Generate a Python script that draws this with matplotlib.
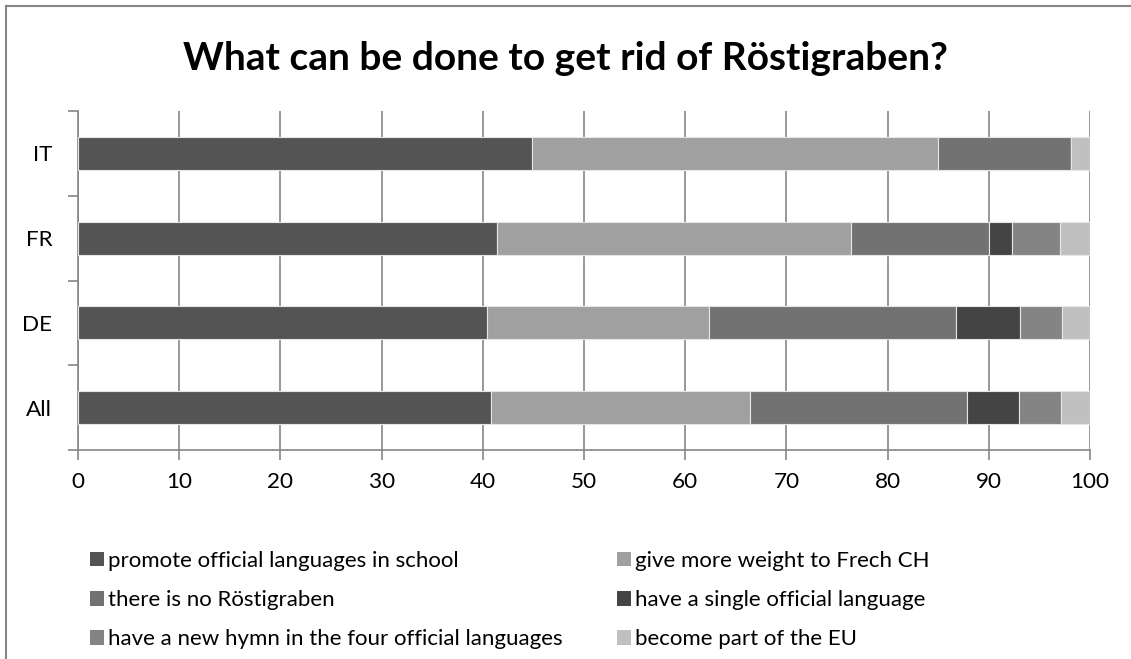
#!/usr/bin/env python3
"""Stacked horizontal bar chart: what can be done to get rid of Röstigraben."""

import matplotlib.pyplot as plt
import numpy as np
from matplotlib.lines import Line2D
from matplotlib.patches import Patch

plt.rcParams['font.family'] = ['Lato', 'DejaVu Sans']

# Data (percent of answers per group)
groups = ['All', 'DE', 'FR', 'IT']
answers = [
    'promote official languages in school',
    'give more weight to Frech CH',
    'there is no Röstigraben',
    'have a single official language',
    'have a new hymn in the four official languages',
    'become part of the EU',
]
promote = [40.8, 40.4, 41.4, 44.9]
weight = [25.6, 22.0, 35.0, 40.1]
no_graben = [21.4, 24.4, 13.6, 13.1]
single = [5.2, 6.3, 2.3, 0.0]
hymn = [4.1, 4.1, 4.7, 0.0]
eu = [2.9, 2.8, 3.0, 1.9]
x_ticks = [0, 10, 20, 30, 40, 50, 60, 70, 80, 90, 100]

colors = ['#545454', '#a0a0a0', '#727272', '#444444', '#848484', '#c0c0c0']

W, H = 1131, 659
fig = plt.figure(figsize=(W / 100, H / 100), dpi=100)
ax = fig.add_axes([78 / W, 1 - 450 / H, (1090 - 78) / W, (450 - 111) / H])

series = [promote, weight, no_graben, single, hymn, eu]
y = np.arange(len(groups))
left = np.zeros(len(groups))
for vals, col in zip(series, colors):
    vals = np.array(vals)
    ax.barh(y, vals, left=left, height=0.39, color=col,
            edgecolor='#e6e6e6', linewidth=0.8, zorder=3)
    left += vals

ax.set_xlim(0, 100)
ax.set_ylim(-0.5, len(groups) - 0.5)
ax.set_xticks(x_ticks)
ax.set_yticks(y)
ax.set_yticklabels(groups)
ax.set_yticks(np.arange(-0.5, len(groups), 1), minor=True)
ax.tick_params(axis='y', which='major', length=0, pad=18.5, labelsize=16.2)
ax.tick_params(axis='y', which='minor', length=7, color='#868686', width=1.2)
ax.tick_params(axis='x', length=7, color='#868686', width=1.2, pad=8.5, labelsize=16.2)
ax.grid(True, axis='x', color='#868686', linewidth=1.2, zorder=0)

for side in ['top', 'right']:
    ax.spines[side].set_visible(False)
for side in ['left', 'bottom']:
    ax.spines[side].set_color('#868686')
    ax.spines[side].set_linewidth(1.2)

fig.text(0.5, 1 - 58 / H, 'What can be done to get rid of Röstigraben?',
         ha='center', va='center', fontsize=28, fontweight='bold')

# legend: two columns, filled row by row
leg_fs = 16
sq = 14 / (leg_fs * 100 / 72)
for col_idx, x0 in enumerate([90, 617]):
    idx = list(range(col_idx, len(answers), 2))
    handles = [Patch(facecolor=colors[i], edgecolor='none') for i in idx]
    fig.legend(handles, [answers[i] for i in idx], loc='upper left',
               bbox_to_anchor=(x0 / W, 1 - 551 / H), frameon=False,
               fontsize=leg_fs, handlelength=sq, handleheight=sq,
               handletextpad=0.18, labelspacing=0.86, borderpad=0,
               borderaxespad=0)

# outer chart frame (only left and top are visible in the crop)
fig.add_artist(Line2D([6 / W, 6 / W], [0, 1 - 6 / H],
                      transform=fig.transFigure, color='#868686', linewidth=1.5))
fig.add_artist(Line2D([6 / W, 1], [1 - 6 / H, 1 - 6 / H],
                      transform=fig.transFigure, color='#868686', linewidth=1.5))

fig.savefig('out.png', dpi=100)
